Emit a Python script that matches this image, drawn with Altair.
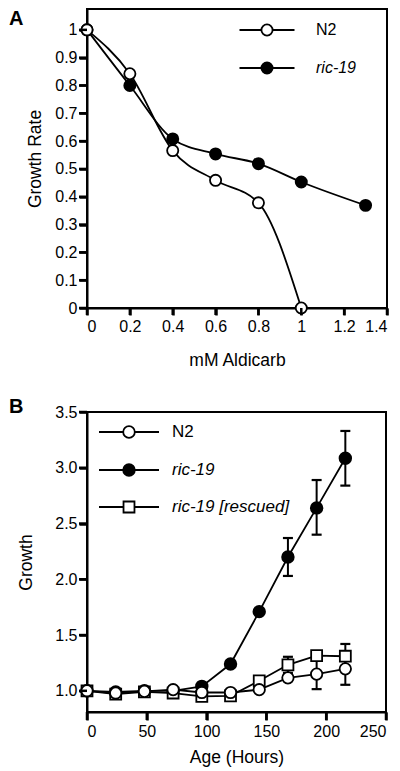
import altair as alt
import pandas as pd

FONT = "Liberation Sans"

# ---------------- Panel A: growth rate vs aldicarb ----------------
a_dose_n2 = [0.0, 0.2, 0.4, 0.6, 0.8, 1.0]
a_rate_n2 = [1.0, 0.842, 0.566, 0.459, 0.378, 0.0]
a_dose_ric = [0.0, 0.2, 0.4, 0.6, 0.8, 1.0, 1.3]
a_rate_ric = [1.0, 0.80, 0.608, 0.554, 0.519, 0.453, 0.369]
a_x_ticks = [0, 0.2, 0.4, 0.6, 0.8, 1.0, 1.2, 1.4]
a_y_ticks = [0, 0.1, 0.2, 0.3, 0.4, 0.5, 0.6, 0.7, 0.8, 0.9, 1.0]
a_series = ["N2", "ric-19"]

# ---------------- Panel B: growth vs age ----------------
b_age = [0, 24, 48, 72, 96, 120, 144, 168, 192, 216]
b_n2 = [1.0, 0.98, 0.995, 1.01, 0.985, 0.985, 1.01, 1.116, 1.15, 1.197]
b_ric = [1.0, 0.99, 1.0, 1.0, 1.04, 1.24, 1.71, 2.2, 2.64, 3.085]
b_resc = [1.0, 0.97, 0.99, 0.98, 0.95, 0.955, 1.09, 1.233, 1.316, 1.31]
b_err_ric_age = [168, 192, 216]
b_err_ric_lo = [2.03, 2.40, 2.84]
b_err_ric_hi = [2.37, 2.89, 3.33]
b_err_n2_age = [192, 216]
b_err_n2_lo = [1.015, 1.054]
b_err_n2_hi = [1.285, 1.34]
b_err_resc_age = [168, 216]
b_err_resc_lo = [1.161, 1.20]
b_err_resc_hi = [1.305, 1.42]
b_x_ticks = [0, 50, 100, 150, 200, 250]
b_y_ticks = [1.0, 1.5, 2.0, 2.5, 3.0, 3.5]
b_series = ["N2", "ric-19", "ric-19 [rescued]"]

AX = dict(ticks=True, labelOverlap=False, domain=True, domainColor="black", domainWidth=2,
          tickColor="black", tickWidth=2.5, labelColor="black", titleColor="black",
          labelFont=FONT, titleFont=FONT, labelFontSize=16, titleFontSize=17.5,
          titleFontWeight="normal", grid=False)

ONE = pd.DataFrame({"k": [0]})


def letter(txt, dx, dy):
    return alt.Chart(ONE).mark_text(
        text=txt, font=FONT, fontSize=20, fontWeight="bold", align="left", baseline="top", color="black"
    ).encode(x=alt.value(dx), y=alt.value(dy))


def legend_entry(label, shape, fill, size, xc, half, y, xl, fsize):
    """One key row: a line through a marker, then its label (pixel placement inside the panel)."""
    line = alt.Chart(ONE).mark_rule(color="black", strokeWidth=1.8).encode(
        x=alt.value(xc - half), x2=alt.value(xc + half), y=alt.value(y))
    mark = alt.Chart(ONE).mark_point(shape=shape, filled=True, fill=fill, stroke="black",
                                     strokeWidth=1.8, size=size, opacity=1).encode(
        x=alt.value(xc), y=alt.value(y))
    txt = alt.Chart(ONE).mark_text(
        text=label, font=FONT, fontSize=fsize, align="left", baseline="middle", color="black",
        fontStyle="normal" if label == "N2" else "italic").encode(x=alt.value(xl), y=alt.value(y))
    return [line, mark, txt]


def tick_layer(values, enc_x, enc_y, field, channel, start, end):
    """Tick marks drawn as rules at the tick values, through the panel's own scale."""
    df = pd.DataFrame({field: values})
    if channel == "x":
        enc = dict(x=enc_x, y=alt.value(start), y2=alt.value(end))
    else:
        enc = dict(y=enc_y, x=alt.value(start), x2=alt.value(end))
    return alt.Chart(df).mark_rule(color="black", strokeWidth=2.5).encode(**enc)


# ---- Panel A ----
WA, HA = 300, 299
dfA = pd.DataFrame({
    "dose": a_dose_n2 + a_dose_ric,
    "rate": a_rate_n2 + a_rate_ric,
    "series": [a_series[0]] * len(a_dose_n2) + [a_series[1]] * len(a_dose_ric),
})
dfA_n2 = pd.DataFrame({"dose": a_dose_n2, "rate": a_rate_n2})
dfA_ric = pd.DataFrame({"dose": a_dose_ric, "rate": a_rate_ric})

xA = alt.X("dose:Q", scale=alt.Scale(domain=[0, 1.4], nice=False, zero=False),
           axis=alt.Axis(values=a_x_ticks, format=".1~f", title="mM Aldicarb",
                         tickSize=7, labelPadding=3, titlePadding=17, **AX))
yA = alt.Y("rate:Q", scale=alt.Scale(domain=[0, 1.075], nice=False),
           axis=alt.Axis(values=a_y_ticks, format=".1~f", title="Growth Rate",
                         tickSize=8, labelPadding=2, titlePadding=10, **AX))

linesA = alt.Chart(dfA).mark_line(interpolate="monotone", color="black", strokeWidth=1.8).encode(
    x=xA, y=yA, detail="series:N")
ptsA_ric = alt.Chart(dfA_ric).mark_point(shape="circle", filled=True, fill="black", stroke="black",
                                         strokeWidth=1.8, size=125, opacity=1).encode(x=xA, y=yA)
ptsA_n2 = alt.Chart(dfA_n2).mark_point(shape="circle", filled=True, fill="white", stroke="black",
                                       strokeWidth=1.8, size=125, opacity=1).encode(x=xA, y=yA)
ticksA = [tick_layer(a_x_ticks, xA, yA, "dose", "x", HA, HA + 7),
          tick_layer(a_y_ticks, xA, yA, "rate", "y", -8, 0)]
keyA = (legend_entry(a_series[0], "circle", "white", 125, 180, 27.5, 21, 229, 16)
        + legend_entry(a_series[1], "circle", "black", 125, 180, 27.5, 59, 229, 16))
panelA = alt.layer(linesA, ptsA_ric, ptsA_n2, *ticksA, *keyA, letter("A", -78, 0)).properties(
    width=WA, height=HA)

# ---- Panel B ----
WB, HB = 299, 300
dfB = pd.DataFrame({
    "age": b_age * 3,
    "growth": b_n2 + b_ric + b_resc,
    "series": [b_series[0]] * len(b_age) + [b_series[1]] * len(b_age) + [b_series[2]] * len(b_age),
})
dfB_n2 = pd.DataFrame({"age": b_age, "growth": b_n2})
dfB_ric = pd.DataFrame({"age": b_age, "growth": b_ric})
dfB_resc = pd.DataFrame({"age": b_age, "growth": b_resc})
dfErr = pd.DataFrame({
    "age": b_err_ric_age + b_err_n2_age + b_err_resc_age,
    "growth": b_err_ric_lo + b_err_n2_lo + b_err_resc_lo,
    "hi": b_err_ric_hi + b_err_n2_hi + b_err_resc_hi,
})
dfCaps = pd.DataFrame({
    "age": list(dfErr["age"]) * 2,
    "growth": list(dfErr["growth"]) + list(dfErr["hi"]),
})

xB = alt.X("age:Q", scale=alt.Scale(domain=[0, 250], nice=False),
           axis=alt.Axis(values=b_x_ticks, format="d", title="Age (Hours)",
                         tickSize=8, labelPadding=3, titlePadding=9, **AX))
yB = alt.Y("growth:Q", scale=alt.Scale(domain=[0.81, 3.5], nice=False, zero=False),
           axis=alt.Axis(values=b_y_ticks, format=".1f", title="Growth",
                         tickSize=8, labelPadding=2, titlePadding=19, **AX))

errB = alt.Chart(dfErr).mark_rule(color="black", strokeWidth=2).encode(x=xB, y=yB, y2="hi:Q")
capsB = alt.Chart(dfCaps).mark_point(shape="stroke", stroke="black", strokeWidth=2.2, size=100, opacity=1).encode(
    x=xB, y=yB)
linesB = alt.Chart(dfB).mark_line(color="black", strokeWidth=1.8).encode(x=xB, y=yB, detail="series:N")
ptsB_ric = alt.Chart(dfB_ric).mark_point(shape="circle", filled=True, fill="black", stroke="black",
                                         strokeWidth=1.8, size=135, opacity=1).encode(x=xB, y=yB)
ptsB_resc = alt.Chart(dfB_resc).mark_point(shape="square", filled=True, fill="white", stroke="black",
                                           strokeWidth=1.8, size=120, opacity=1).encode(x=xB, y=yB)
ptsB_n2 = alt.Chart(dfB_n2).mark_point(shape="circle", filled=True, fill="white", stroke="black",
                                       strokeWidth=1.8, size=130, opacity=1).encode(x=xB, y=yB)
ticksB = [tick_layer(b_x_ticks, xB, yB, "age", "x", HB, HB + 8),
          tick_layer(b_y_ticks, xB, yB, "growth", "y", -8, 0)]
keyB = (legend_entry(b_series[0], "circle", "white", 135, 42, 30, 20, 85, 17)
        + legend_entry(b_series[1], "circle", "black", 135, 42, 30, 58, 85, 17)
        + legend_entry(b_series[2], "square", "white", 120, 42, 30, 95, 85, 17))
panelB = alt.layer(errB, capsB, linesB, ptsB_ric, ptsB_resc, ptsB_n2, *ticksB, *keyB,
                   letter("B", -78, -15)).properties(width=WB, height=HB)

chart = alt.vconcat(panelA, panelB, spacing=26).properties(
    padding=0, background="white"
).configure_view(
    stroke="black", strokeWidth=2
).configure_axis(
    grid=False, domainColor="black", domainWidth=2, tickColor="black", tickWidth=2.5,
    labelColor="black", titleColor="black", labelFont=FONT, titleFont=FONT,
    labelFontSize=16, titleFontSize=17.5, titleFontWeight="normal"
)

chart.save("out.html", embed_options={"renderer": "svg", "actions": False})
